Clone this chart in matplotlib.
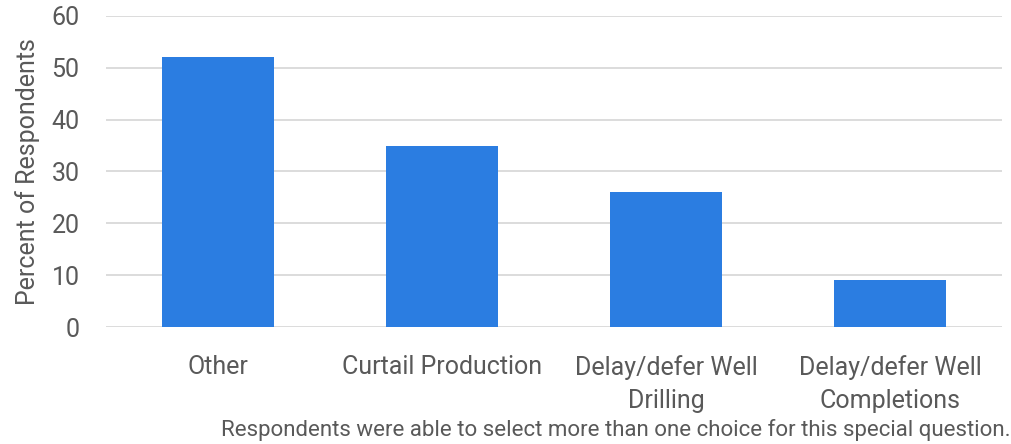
import matplotlib
matplotlib.use("Agg")
import matplotlib.pyplot as plt

categories = ["Other", "Curtail Production", "Delay/defer Well\nDrilling", "Delay/defer Well\nCompletions"]
values = [52, 35, 26, 9]
yticks = [0, 10, 20, 30, 40, 50, 60]
ylabel = "Percent of Respondents"
footnote = "Respondents were able to select more than one choice for this special question."

plt.rcParams['font.family'] = ['Roboto', 'DejaVu Sans']
text_color = "#595959"

fig = plt.figure(figsize=(10.12, 4.44), dpi=100)
ax = fig.add_axes([0.1047, 0.2635, 0.8853, 0.7005])
x = range(len(categories))
ax.bar(x, values, width=0.5, color="#2B7DE1", zorder=3)
ax.set_xlim(-0.5, len(categories) - 0.5)
ax.set_ylim(0, 60)
ax.set_yticks(yticks)
ax.set_xticks(list(x))
ax.set_xticklabels(categories, fontsize=18, color=text_color, linespacing=1.5)
ax.tick_params(axis='y', labelsize=18, labelcolor=text_color, length=0, pad=19)
ax.tick_params(axis='x', length=0, pad=20)
ax.grid(axis='y', color="#d9d9d9", linewidth=1.3, zorder=0)
for s in ax.spines.values():
    s.set_visible(False)
ax.set_ylabel(ylabel, fontsize=18, color=text_color, labelpad=8)
fig.text(0.999, 0.032, footnote, ha='right', va='center', fontsize=16, color=text_color)
fig.savefig("out.png", dpi=100)
